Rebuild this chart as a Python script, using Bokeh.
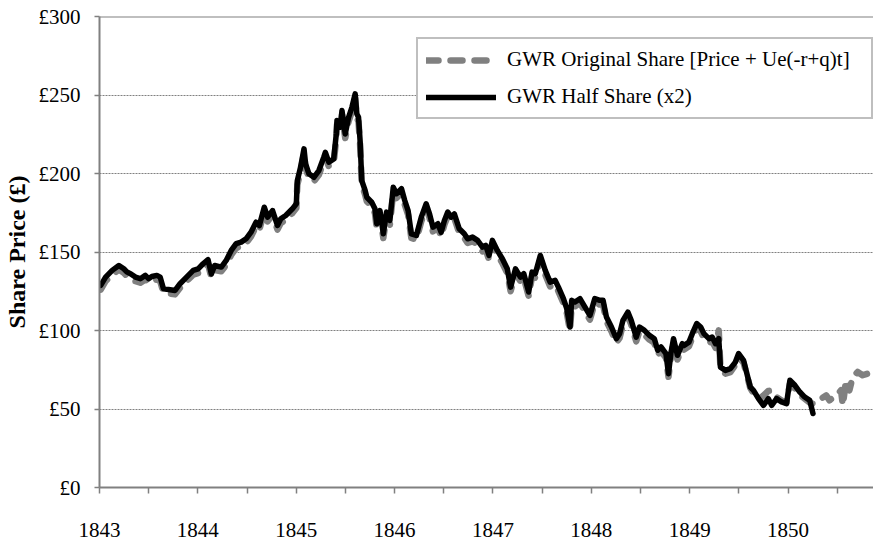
from bokeh.plotting import figure
from bokeh.models import FixedTicker, PrintfTickFormatter, Range1d, Span
from bokeh.embed import file_html
from bokeh.resources import INLINE

# ---- data ----
half_years = [
    1843.012, 1843.062, 1843.129, 1843.197, 1843.247, 1843.280, 1843.315, 1843.365, 1843.415, 1843.466,
    1843.499, 1843.532, 1843.583, 1843.617, 1843.650, 1843.718, 1843.768, 1843.819, 1843.885, 1843.953,
    1844.003, 1844.053, 1844.103, 1844.137, 1844.171, 1844.238, 1844.288, 1844.339, 1844.389, 1844.440,
    1844.490, 1844.540, 1844.591, 1844.625, 1844.675, 1844.709, 1844.759, 1844.809, 1844.843, 1844.893,
    1844.961,
    1845.001, 1845.011, 1845.044, 1845.079, 1845.095, 1845.129, 1845.179, 1845.230, 1845.280, 1845.296,
    1845.331, 1845.381, 1845.407, 1845.414, 1845.448, 1845.465, 1845.498, 1845.532, 1845.566, 1845.599,
    1845.616, 1845.633, 1845.649, 1845.666, 1845.700, 1845.717, 1845.767, 1845.800, 1845.818, 1845.851,
    1845.885, 1845.918, 1845.952, 1845.986,
    1846.019, 1846.070, 1846.103, 1846.137, 1846.170, 1846.221, 1846.271, 1846.321, 1846.355, 1846.389,
    1846.440, 1846.473, 1846.506, 1846.540, 1846.574, 1846.607, 1846.657, 1846.708, 1846.742, 1846.792,
    1846.843, 1846.893, 1846.926, 1846.960, 1846.994,
    1847.044, 1847.095, 1847.145, 1847.179, 1847.229, 1847.279, 1847.313, 1847.363, 1847.397, 1847.430,
    1847.481, 1847.531, 1847.581, 1847.632, 1847.665, 1847.716, 1847.750, 1847.783, 1847.800, 1847.834,
    1847.884, 1847.935, 1847.985,
    1848.035, 1848.086, 1848.119, 1848.153, 1848.204, 1848.254, 1848.287, 1848.321, 1848.371, 1848.405,
    1848.456, 1848.489, 1848.539, 1848.590, 1848.640, 1848.674, 1848.708, 1848.758, 1848.784, 1848.808,
    1848.835, 1848.875, 1848.925, 1848.942, 1848.992,
    1849.026, 1849.071, 1849.111, 1849.144, 1849.195, 1849.228, 1849.262, 1849.295, 1849.312, 1849.363,
    1849.413, 1849.464, 1849.497, 1849.547, 1849.581, 1849.615, 1849.648, 1849.699, 1849.749, 1849.799,
    1849.833, 1849.883, 1849.933, 1849.984,
    1850.018, 1850.069, 1850.119, 1850.169, 1850.220, 1850.253,
]
half_price = [
    128.7, 134.0, 138.3, 141.4, 139.3, 137.2, 136.2, 134.0, 133.0, 135.1,
    133.0, 134.4, 135.1, 134.0, 126.6, 126.0, 125.5, 129.8, 134.0, 138.3,
    139.3, 142.5, 145.1, 136.0, 141.4, 140.4, 144.6, 151.0, 155.3, 156.3,
    158.4, 162.6, 169.0, 166.9, 178.5, 172.2, 176.4, 166.9, 171.2, 173.3,
    177.5,
    180.7, 195.5, 204.0, 215.7, 206.2, 199.8, 197.6, 201.9, 210.4, 213.5,
    207.2, 209.3, 225.2, 233.7, 229.5, 240.1, 225.2, 235.8, 242.2, 250.7,
    238.0, 235.8, 221.0, 195.5, 189.2, 184.9, 181.7, 177.5, 168.0, 176.4,
    161.6, 175.4, 170.1, 191.3,
    187.1, 190.3, 182.8, 176.4, 161.6, 160.5, 172.2, 180.7, 174.3, 165.8,
    168.0, 162.6, 170.1, 175.4, 172.2, 174.3, 164.8, 161.6, 158.4, 159.5,
    157.4, 153.1, 154.2, 147.8, 157.4,
    151.0, 145.7, 139.3, 127.6, 139.3, 134.0, 136.2, 124.5, 137.2, 136.2,
    147.8, 138.3, 130.8, 131.9, 127.6, 120.3, 113.9, 102.2, 119.2, 118.1,
    120.3, 114.9, 109.6,
    120.3, 119.2, 119.2, 108.6, 102.2, 94.8, 98.0, 106.5, 111.7, 106.5,
    95.8, 102.2, 100.1, 96.9, 94.8, 87.4, 89.5, 85.3, 72.5, 85.3,
    94.8, 84.2, 91.6, 90.5, 92.6,
    98.0, 104.4, 102.2, 98.0, 94.8, 95.8, 91.6, 94.8, 76.7, 74.6,
    75.7, 79.9, 85.3, 81.0, 72.5, 64.0, 61.9, 56.6, 52.3, 56.6,
    52.3, 56.6, 54.5, 53.4,
    68.3, 65.1, 60.8, 57.6, 55.5, 47.1,
]

orig_tail_years = [1850.287, 1850.337, 1850.387, 1850.421, 1850.488, 1850.538, 1850.556,
                   1850.589, 1850.623, 1850.656, 1850.707, 1850.757, 1850.807, 1850.858]
orig_years = half_years + orig_tail_years
orig_price = [
    126.0, 131.5, 135.5, 138.8, 136.8, 134.6, 133.5, 131.4, 130.4, 132.5,
    130.4, 131.8, 132.5, 131.5, 124.2, 123.5, 123.0, 127.2, 131.4, 135.6,
    136.6, 139.8, 142.4, 133.8, 138.6, 137.7, 141.8, 148.2, 152.5, 153.6,
    155.7, 159.8, 166.3, 164.2, 175.8, 169.5, 173.6, 164.3, 168.4, 170.6,
    174.8,
    178.0, 192.8, 201.4, 213.0, 203.5, 197.2, 195.0, 199.2, 207.6, 210.8,
    204.5, 206.6, 222.5, 231.0, 226.8, 237.4, 222.6, 233.1, 239.5, 248.0,
    235.4, 233.1, 218.4, 192.9, 186.5, 182.3, 179.0, 174.8, 165.4, 173.7,
    158.9, 172.8, 167.4, 188.6,
    184.4, 187.6, 180.1, 173.8, 158.9, 157.8, 169.5, 178.0, 171.6, 163.1,
    165.3, 159.9, 167.5, 172.7, 169.5, 171.6, 162.1, 158.9, 155.8, 156.8,
    154.7, 150.4, 151.5, 145.1, 154.7,
    148.3, 143.0, 136.6, 125.0, 136.6, 131.3, 133.5, 121.8, 134.5, 133.5,
    145.1, 135.6, 128.1, 129.2, 124.9, 117.6, 111.2, 99.6, 116.5, 115.4,
    117.6, 112.2, 106.9,
    117.6, 116.5, 116.5, 105.9, 99.5, 92.1, 95.3, 103.8, 109.0, 103.8,
    93.1, 99.5, 97.4, 94.2, 92.1, 84.7, 86.8, 82.6, 70.5, 82.6,
    92.1, 81.5, 88.9, 87.8, 89.9,
    95.3, 101.7, 99.5, 95.3, 92.1, 93.1, 89.0, 100.1, 76.0, 72.5,
    73.5, 78.0, 83.0, 79.5, 71.5, 63.5, 60.0, 56.0, 58.5, 61.5,
    61.8, 57.6, 55.5, 54.0,
    66.0, 63.0, 59.0, 56.5, 54.0, 53.4,
    54.5, 56.6, 58.7, 55.5, 58.7, 61.9, 52.3,
    68.3, 61.9, 70.4, 73.6, 71.5, 72.5, 74.8,
]

year_ticks = [1843, 1844, 1845, 1846, 1847, 1848, 1849, 1850]
half_year_ticks = [1843.5, 1844.5, 1845.5, 1846.5, 1847.5, 1848.5, 1849.5, 1850.5]
price_ticks = [0, 50, 100, 150, 200, 250, 300]

series_labels = ["GWR Original Share [Price + Ue(-r+q)t]", "GWR Half Share (x2)"]
y_title = "Share Price (£)"

FONT = "Liberation Serif"
GRAY = "#808080"

p = figure(width=873, height=541,
           x_range=Range1d(1843, 1850.868), y_range=Range1d(0, 300),
           output_backend="svg", toolbar_location=None,
           min_border_left=93, min_border_right=0, min_border_top=16, min_border_bottom=54)

p.outline_line_color = None
p.background_fill_color = "white"
p.border_fill_color = "white"

p.line(orig_years, orig_price, line_color=GRAY, line_width=6.5, line_dash="12 12",
       line_cap="round", line_join="round", legend_label=series_labels[0])
p.line(half_years, half_price, line_color="black", line_width=5.5,
       line_cap="round", line_join="round", legend_label=series_labels[1])

# top frame line
p.add_layout(Span(location=price_ticks[-1], dimension="width", line_color=GRAY, line_width=2))

# grid
p.xgrid.visible = False
p.ygrid.ticker = FixedTicker(ticks=price_ticks[1:-1])
p.ygrid.grid_line_color = GRAY
p.ygrid.grid_line_dash = "2 1"
p.ygrid.grid_line_width = 1

# x axis
xa = p.xaxis[0]
xa.ticker = FixedTicker(ticks=year_ticks, minor_ticks=half_year_ticks)
xa.formatter = PrintfTickFormatter(format="%d")
xa.axis_line_color = GRAY
xa.axis_line_width = 2
xa.major_tick_line_color = GRAY
xa.minor_tick_line_color = GRAY
xa.major_tick_line_width = 1.5
xa.minor_tick_line_width = 1.5
xa.major_tick_in = 0
xa.major_tick_out = 6
xa.minor_tick_in = 0
xa.minor_tick_out = 6
xa.major_label_text_font = FONT
xa.major_label_text_font_size = "21px"
xa.major_label_text_color = "black"
xa.major_label_text_line_height = 0.8
xa.major_label_standoff = 29

# y axis
ya = p.yaxis[0]
ya.ticker = FixedTicker(ticks=price_ticks)
ya.formatter = PrintfTickFormatter(format="£%d")
ya.axis_line_color = GRAY
ya.axis_line_width = 2
ya.major_tick_line_color = GRAY
ya.major_tick_line_width = 1.5
ya.major_tick_in = 0
ya.major_tick_out = 5
ya.minor_tick_line_color = None
ya.major_label_text_font = FONT
ya.major_label_text_font_size = "21px"
ya.major_label_text_color = "black"
ya.major_label_standoff = 14
ya.axis_label = y_title
ya.axis_label_text_font = FONT
ya.axis_label_text_font_size = "24px"
ya.axis_label_text_font_style = "bold"
ya.axis_label_text_color = "black"
ya.axis_label_standoff = 6

# legend
lg = p.legend[0]
lg.location = (317, 368)
lg.label_text_font = FONT
lg.label_text_font_size = "21px"
lg.label_text_color = "black"
lg.glyph_width = 70
lg.glyph_height = 20
lg.label_standoff = 11
lg.label_width = 356
lg.padding = 8
lg.spacing = 12
lg.margin = 0
lg.border_line_color = GRAY
lg.border_line_width = 2
lg.background_fill_color = "white"
lg.background_fill_alpha = 1

open("out.html", "w").write(file_html(p, INLINE))
